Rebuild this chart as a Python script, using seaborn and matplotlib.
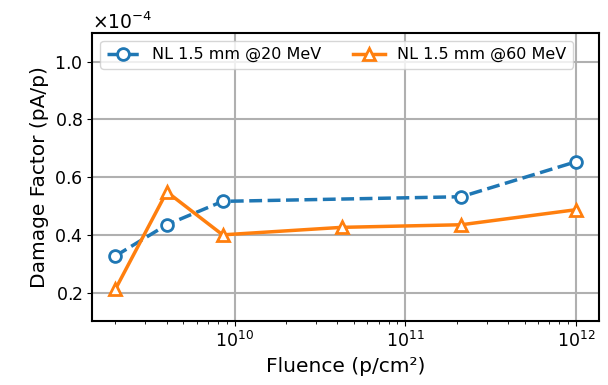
import matplotlib
matplotlib.use("Agg")
import matplotlib.pyplot as plt
import seaborn as sns
import pandas as pd
from matplotlib.ticker import ScalarFormatter

fluence_20 = [2.0e9, 4.0e9, 8.5e9, 2.13e11, 1.0e12]
damage_20 = [0.327e-4, 0.435e-4, 0.516e-4, 0.532e-4, 0.653e-4]
fluence_60 = [2.0e9, 4.0e9, 8.5e9, 4.25e10, 2.13e11, 1.0e12]
damage_60 = [0.212e-4, 0.549e-4, 0.400e-4, 0.426e-4, 0.435e-4, 0.487e-4]
label_20 = "NL 1.5 mm @20 MeV"
label_60 = "NL 1.5 mm @60 MeV"

df20 = pd.DataFrame({"x": fluence_20, "y": damage_20})
df60 = pd.DataFrame({"x": fluence_60, "y": damage_60})

fig, ax = plt.subplots(figsize=(6.08, 3.85), dpi=100)
sns.lineplot(data=df20, x="x", y="y", ax=ax, color="#1f77b4", lw=2.5,
             linestyle="--", marker="o", markersize=8.5, markerfacecolor="white",
             markeredgecolor="#1f77b4", markeredgewidth=2, label=label_20)
sns.lineplot(data=df60, x="x", y="y", ax=ax, color="#ff7f0e", lw=2.5,
             linestyle="-", marker="^", markersize=8.5, markerfacecolor="white",
             markeredgecolor="#ff7f0e", markeredgewidth=2, label=label_60)
ax.set_xscale("log")
ax.set_ylim(0.1e-4, 1.1e-4)
ax.set_yticks([0.2e-4, 0.4e-4, 0.6e-4, 0.8e-4, 1.0e-4])
fmt = ScalarFormatter(useMathText=True)
fmt.set_powerlimits((-4, -4))
ax.yaxis.set_major_formatter(fmt)
ax.yaxis.get_offset_text().set_fontsize(13.5)
ax.grid(True, which="major", color="#b0b0b0", lw=1.5)
ax.set_xlabel("Fluence (p/cm²)", fontsize=14.5)
ax.set_ylabel("Damage Factor (pA/p)", fontsize=14.5)
ax.tick_params(axis="both", labelsize=12.5)
for s in ax.spines.values():
    s.set_linewidth(1.5)
ax.legend(loc="upper left", ncol=2, fontsize=11.5, columnspacing=2.0)
fig.subplots_adjust(left=0.152, right=0.985, top=0.915, bottom=0.165)
fig.savefig("out.png", dpi=100)
